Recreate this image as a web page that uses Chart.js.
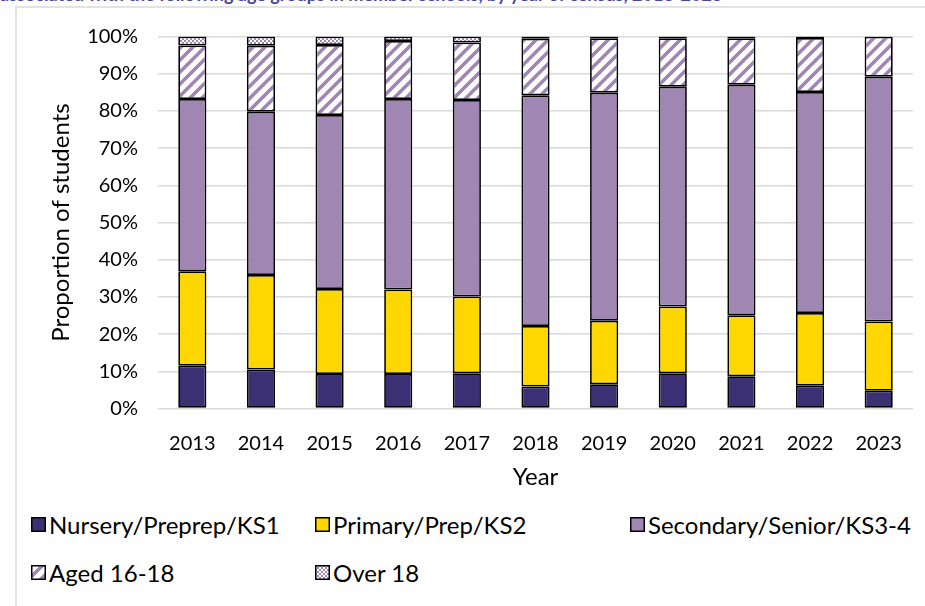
<!DOCTYPE html>
<html>
<head>
<meta charset="utf-8">
<script src="https://cdn.jsdelivr.net/npm/chart.js@4.4.1/dist/chart.umd.min.js"></script>
<style>
  html, body { margin: 0; padding: 0; background: #fff; }
  body { width: 925px; height: 606px; position: relative; overflow: hidden; font-family: Lato, "Open Sans", sans-serif; }
  #title { position: absolute; left: 0px; top: -17px; font: bold 18px Lato, sans-serif; color: #4a44a0; white-space: nowrap; }
  #frame { position: absolute; left: 15px; top: 6px; width: 960px; height: 700px; border-left: 2px solid #e3e3e3; border-top: 2px solid #e3e3e3; background: #fff; }
  #chart { position: absolute; left: 0; top: 0; }
  .leg { position: absolute; display: flex; align-items: center; font-size: 24px; color: #000; white-space: nowrap; }
  .leg canvas { margin-right: 3px; }
</style>
</head>
<body>
<div id="title">associated with the following age groups in member schools, by year of census, 2013-2023</div>
<div id="frame"></div>
<canvas id="chart" width="925" height="500"></canvas>
<div id="legend"></div>
<script>
// Proporción de alumnos por etapa, en %
const years = ['2013', '2014', '2015', '2016', '2017', '2018', '2019', '2020', '2021', '2022', '2023'];
const nursery   = [11.5, 10.5, 9.3, 9.3, 9.5, 5.9, 6.5, 9.5, 8.7, 6.1, 4.8];
const primary   = [25.4, 25.4, 22.8, 22.7, 20.6, 16.3, 17.1, 17.9, 16.4, 19.6, 18.6];
const secondary = [46.3, 43.9, 46.8, 51.2, 52.8, 62.0, 61.3, 59.1, 61.9, 59.4, 65.8];
const aged1618  = [14.4, 17.7, 18.8, 15.6, 15.5, 15.2, 14.6, 13.0, 12.5, 14.5, 10.7];
const over18    = [2.4, 2.5, 2.3, 1.2, 1.6, 0.6, 0.5, 0.5, 0.5, 0.4, 0.1];
const seriesNames = ['Nursery/Preprep/KS1', 'Primary/Prep/KS2', 'Secondary/Senior/KS3-4', 'Aged 16-18', 'Over 18'];

var purple = '#a087b3';

// patrones: rayas diagonales y cuadriculado fino
function hatchPattern(ctx) {
    var c = document.createElement('canvas');
    c.width = 12; c.height = 12;
    var g = c.getContext('2d');
    g.fillStyle = '#fff';
    g.fillRect(0, 0, 12, 12);
    g.strokeStyle = purple;
    g.lineWidth = 3.5;
    [[-6, 6, 6, -6], [0, 12, 12, 0], [6, 18, 18, 6]].forEach(function(l) {
        g.beginPath(); g.moveTo(l[0], l[1]); g.lineTo(l[2], l[3]); g.stroke();
    });
    return ctx.createPattern(c, 'repeat');
}
function checkPattern(ctx) {
    var c = document.createElement('canvas');
    c.width = 4; c.height = 4;
    var g = c.getContext('2d');
    g.fillStyle = '#fff';
    g.fillRect(0, 0, 4, 4);
    g.fillStyle = purple;
    g.fillRect(0, 0, 2, 2);
    g.fillRect(2, 2, 2, 2);
    return ctx.createPattern(c, 'repeat');
}

var ctx = document.getElementById('chart').getContext('2d');
var fills = ['#3a3073', '#ffd700', purple, hatchPattern(ctx), checkPattern(ctx)];
var values = [nursery, primary, secondary, aged1618, over18];

var barChart = new Chart(ctx, {
    type: 'bar',
    data: {
        labels: years,
        datasets: values.map(function(v, i) {
            return {
                label: seriesNames[i],
                data: v,
                backgroundColor: fills[i],
                borderColor: '#000',
                borderWidth: 1.75,
                borderSkipped: false,
                barPercentage: 0.41,
                categoryPercentage: 1
            };
        })
    },
    options: {
        responsive: false,
        animation: false,
        devicePixelRatio: 1,
        layout: { padding: { top: 36.5, right: 12, left: 0, bottom: 0 } },
        plugins: { legend: { display: false }, tooltip: { enabled: false } },
        scales: {
            x: {
                stacked: true,
                grid: { display: false },
                border: { display: false },
                ticks: { color: '#000', font: { family: 'Lato', size: 20 }, padding: 15, maxRotation: 0 },
                title: { display: true, text: 'Year', color: '#000', font: { family: 'Lato', size: 24 }, padding: { top: 0, bottom: 8 } },
                afterFit: function(s) { s.height = 91.5; }
            },
            y: {
                stacked: true,
                min: 0,
                max: 100,
                grid: { color: '#d9d9d9', lineWidth: 1.5, drawTicks: false },
                border: { display: false },
                ticks: {
                    stepSize: 10,
                    color: '#000',
                    font: { family: 'Lato', size: 20 },
                    padding: 20,
                    callback: function(v) { return v + '%'; }
                },
                title: { display: true, text: 'Proportion of students', color: '#000', font: { family: 'Lato', size: 24 }, padding: { top: 47, bottom: 0 } },
                afterFit: function(s) { s.width = 158; }
            }
        }
    }
});

// leyenda en HTML (dos filas como en el original)
var legPos = [[31, 525], [315, 525], [630, 525], [31, 573], [315, 573]];
var legend = document.getElementById('legend');
seriesNames.forEach(function(name, i) {
    var d = document.createElement('div');
    d.className = 'leg';
    d.style.left = legPos[i][0] + 'px';
    d.style.top = (legPos[i][1] - 15) + 'px';
    var sw = document.createElement('canvas');
    sw.width = 15; sw.height = 15;
    var g = sw.getContext('2d');
    g.fillStyle = fills[i] instanceof CanvasPattern ? (i === 3 ? hatchPattern(g) : checkPattern(g)) : fills[i];
    g.fillRect(0, 0, 15, 15);
    g.strokeStyle = '#000';
    g.lineWidth = 1.5;
    g.strokeRect(0.75, 0.75, 13.5, 13.5);
    d.appendChild(sw);
    var t = document.createElement('span');
    t.textContent = name;
    d.appendChild(t);
    legend.appendChild(d);
});
</script>
</body>
</html>
